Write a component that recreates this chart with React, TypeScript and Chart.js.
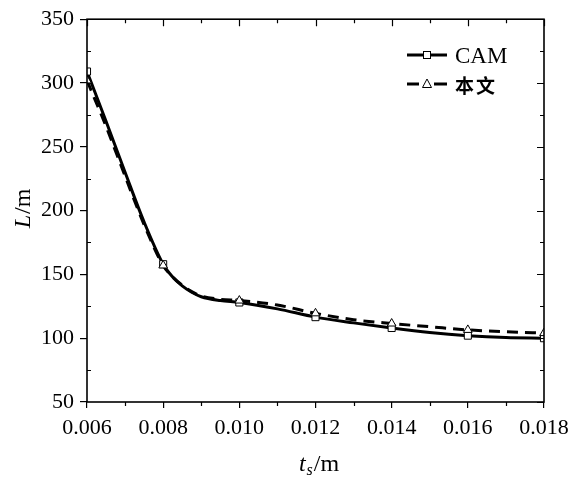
import React, { useEffect, useRef } from 'react';
import { Chart, registerables } from 'chart.js';
Chart.register(...registerables);

// thickness t_s (m)
const xValues = [0.006, 0.0065, 0.007, 0.0075, 0.008, 0.00825, 0.0085, 0.00875, 0.009, 0.0095, 0.010, 0.011, 0.012, 0.013, 0.014, 0.015, 0.016, 0.017, 0.018];
// CAM result L (m)
const camValues = [309, 270, 230, 191, 158, 148, 141, 136, 132.5, 129.5, 128, 123, 116.5, 112, 108, 104.5, 102, 100.5, 100];
// this paper result L (m)
const oursValues = [302, 266, 227, 189, 157, 148, 141.5, 136.5, 133, 130.5, 129.5, 126, 119.5, 114.5, 111.5, 109, 106.5, 105, 104];
// indices carrying a marker
const markerIdx = [0, 4, 10, 12, 14, 16, 18];
const xMajor = [0.006, 0.008, 0.010, 0.012, 0.014, 0.016, 0.018];
const xMinor = [0.007, 0.009, 0.011, 0.013, 0.015, 0.017];
const yMajor = [50, 100, 150, 200, 250, 300, 350];
const yMinor = [75, 125, 175, 225, 275, 325];
const seriesNames = ['CAM', '本文'];

const SERIF = '"Liberation Serif", "DejaVu Serif", serif';
const CJK = '"Noto Sans CJK SC", "Noto Sans CJK JP", sans-serif';

const framePlugin = {
  id: 'frame',
  afterDraw(chart: any) {
    const { ctx, chartArea } = chart;
    const { left, right, top, bottom } = chartArea;
    const x = chart.scales.x;
    const y = chart.scales.y;
    ctx.save();
    ctx.strokeStyle = '#000';
    ctx.lineWidth = 1.6;
    ctx.setLineDash([]);
    ctx.strokeRect(left, top, right - left, bottom - top);
    ctx.lineWidth = 1.2;
    ctx.beginPath();
    for (const v of yMinor) {
      const p = Math.round(y.getPixelForValue(v)) + 0.5;
      ctx.moveTo(left, p); ctx.lineTo(left + 4, p);
      ctx.moveTo(right, p); ctx.lineTo(right - 4, p);
    }
    for (const v of yMajor) {
      const p = Math.round(y.getPixelForValue(v)) + 0.5;
      ctx.moveTo(right, p); ctx.lineTo(right - 7, p);
    }
    for (const v of xMinor) {
      const p = Math.round(x.getPixelForValue(v)) + 0.5;
      ctx.moveTo(p, bottom); ctx.lineTo(p, bottom + 4);
      ctx.moveTo(p, top); ctx.lineTo(p, top + 4);
    }
    for (const v of xMajor) {
      const p = Math.round(x.getPixelForValue(v)) + 0.5;
      ctx.moveTo(p, top); ctx.lineTo(p, top + 7);
    }
    ctx.stroke();

    // legend
    ctx.fillStyle = '#000';
    ctx.lineWidth = 3;
    ctx.beginPath();
    ctx.moveTo(407, 55); ctx.lineTo(447, 55);
    ctx.stroke();
    ctx.beginPath();
    ctx.moveTo(407, 84); ctx.lineTo(419, 84);
    ctx.moveTo(434, 84); ctx.lineTo(447, 84);
    ctx.stroke();
    ctx.lineWidth = 1;
    ctx.fillStyle = '#fff';
    ctx.fillRect(423.5, 51.5, 7, 7);
    ctx.strokeRect(423.5, 51.5, 7, 7);
    ctx.beginPath();
    ctx.moveTo(427, 79); ctx.lineTo(431.5, 87.5); ctx.lineTo(422.5, 87.5); ctx.closePath();
    ctx.fill(); ctx.stroke();
    ctx.fillStyle = '#000';
    ctx.textBaseline = 'middle';
    ctx.textAlign = 'left';
    ctx.font = `23px ${SERIF}`;
    ctx.fillText(seriesNames[0], 455, 57);
    ctx.font = `bold 19px ${CJK}`;
    ctx.fillText(seriesNames[1].charAt(0), 455, 86);
    ctx.fillText(seriesNames[1].charAt(1), 476, 86);

    // y title
    ctx.save();
    ctx.translate(22, 209);
    ctx.rotate(-Math.PI / 2);
    ctx.font = `italic 24px ${SERIF}`;
    const wL = ctx.measureText('L').width;
    ctx.font = `24px ${SERIF}`;
    const wR = ctx.measureText('/m').width;
    const sx = -(wL + wR) / 2;
    ctx.textBaseline = 'alphabetic';
    ctx.font = `italic 24px ${SERIF}`;
    ctx.fillText('L', sx, 8);
    ctx.font = `24px ${SERIF}`;
    ctx.fillText('/m', sx + wL + 1, 8);
    ctx.restore();

    // x title
    ctx.textBaseline = 'alphabetic';
    ctx.font = `italic 24px ${SERIF}`;
    const wt = ctx.measureText('t').width;
    ctx.font = `italic 16px ${SERIF}`;
    const ws = ctx.measureText('s').width;
    ctx.font = `24px ${SERIF}`;
    const wm = ctx.measureText('/m').width;
    const tx = 319 - (wt + ws + wm + 2) / 2;
    ctx.font = `italic 24px ${SERIF}`;
    ctx.fillText('t', tx, 471);
    ctx.font = `italic 16px ${SERIF}`;
    ctx.fillText('s', tx + wt + 1, 475);
    ctx.font = `24px ${SERIF}`;
    ctx.fillText('/m', tx + wt + ws + 2, 471);
    ctx.restore();
  },
};

export default function App() {
  const ref = useRef<HTMLCanvasElement>(null);
  useEffect(() => {
    document.body.style.margin = '0';
    const canvas = ref.current!;
    const mk = (ctx: any) => (markerIdx.includes(ctx.dataIndex) ? 5 : 0);
    const chart = new Chart(canvas, {
      type: 'line',
      data: {
        datasets: [
          {
            label: seriesNames[0],
            data: xValues.map((x, i) => ({ x, y: camValues[i] })),
            borderColor: '#000',
            borderWidth: 3,
            backgroundColor: '#fff',
            pointStyle: 'rect',
            pointRadius: mk,
            pointBorderWidth: 1,
            pointBorderColor: '#000',
            pointBackgroundColor: '#fff',
            cubicInterpolationMode: 'monotone',
            fill: false,
            order: 2,
          },
          {
            label: seriesNames[1],
            data: xValues.map((x, i) => ({ x, y: oursValues[i] })),
            borderColor: '#000',
            borderWidth: 3,
            borderDash: [11, 7],
            backgroundColor: '#fff',
            pointStyle: 'triangle',
            pointRadius: mk,
            pointBorderWidth: 1,
            pointBorderColor: '#000',
            pointBackgroundColor: '#fff',
            cubicInterpolationMode: 'monotone',
            fill: false,
            order: 1,
          },
        ],
      },
      options: {
        animation: false,
        responsive: false,
        maintainAspectRatio: false,
        layout: { padding: { left: 0, right: 32, top: 17, bottom: 0 } },
        plugins: { legend: { display: false }, tooltip: { enabled: false } },
        scales: {
          x: {
            type: 'linear',
            min: 0.006,
            max: 0.018,
            afterBuildTicks: (s: any) => { s.ticks = xMajor.map((v) => ({ value: v })); },
            afterFit: (s: any) => { s.height = 76; },
            ticks: {
              callback: (v: any) => Number(v).toFixed(3),
              color: '#000',
              font: { family: SERIF, size: 22 },
              padding: 7,
              maxRotation: 0,
              autoSkip: false,
            },
            grid: { display: true, drawOnChartArea: false, drawTicks: true, tickLength: 6, color: '#000', lineWidth: 1.2 },
            border: { display: false },
          },
          y: {
            type: 'linear',
            min: 50,
            max: 350,
            afterBuildTicks: (s: any) => { s.ticks = yMajor.map((v) => ({ value: v })); },
            afterFit: (s: any) => { s.width = 87; },
            ticks: {
              color: '#000',
              font: { family: SERIF, size: 22 },
              padding: 6,
              autoSkip: false,
            },
            grid: { display: true, drawOnChartArea: false, drawTicks: true, tickLength: 7, color: '#000', lineWidth: 1.2 },
            border: { display: false },
          },
        },
      },
      plugins: [framePlugin],
    } as any);
    return () => chart.destroy();
  }, []);
  return (
    <div style={{ width: 576, height: 478, background: '#fff' }}>
      <canvas ref={ref} width={576} height={478} style={{ display: 'block' }} />
    </div>
  );
}
